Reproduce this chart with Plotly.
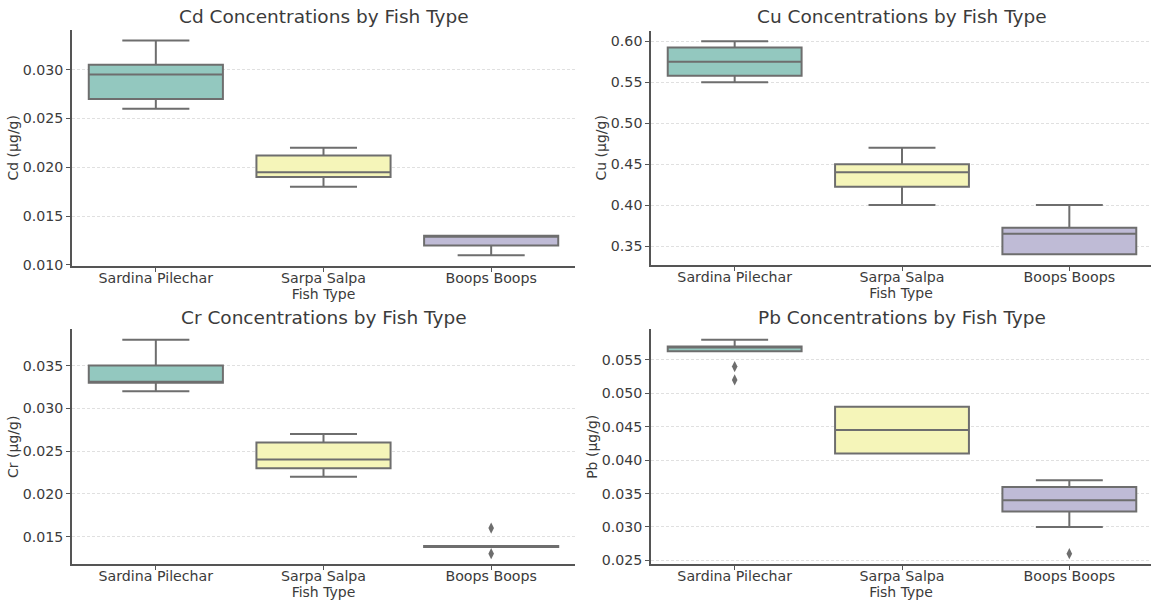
import plotly.graph_objects as go

# Fish species (x categories)
fish_types = ["Sardina Pilechar", "Sarpa Salpa", "Boops Boops"]
box_colors = ["#93c8bf", "#f5f5b9", "#bfbbd6"]

# Box statistics per metal (µg/g), one value per fish type
cd_lower = [0.026, 0.018, 0.011]
cd_q1 = [0.027, 0.019, 0.012]
cd_median = [0.0295, 0.0195, 0.013]
cd_q3 = [0.0305, 0.0212, 0.013]
cd_upper = [0.033, 0.022, 0.013]
cd_outliers = [[], [], []]

cu_lower = [0.55, 0.40, 0.34]
cu_q1 = [0.558, 0.4225, 0.34]
cu_median = [0.575, 0.44, 0.365]
cu_q3 = [0.5925, 0.45, 0.3725]
cu_upper = [0.60, 0.47, 0.40]
cu_outliers = [[], [], []]

cr_lower = [0.032, 0.022, 0.0138]
cr_q1 = [0.033, 0.023, 0.0138]
cr_median = [0.033, 0.024, 0.0139]
cr_q3 = [0.035, 0.026, 0.0139]
cr_upper = [0.038, 0.027, 0.0139]
cr_outliers = [[], [], [0.016, 0.013]]

pb_lower = [0.0563, 0.041, 0.030]
pb_q1 = [0.0563, 0.041, 0.0323]
pb_median = [0.057, 0.0445, 0.034]
pb_q3 = [0.057, 0.048, 0.036]
pb_upper = [0.058, 0.048, 0.037]
pb_outliers = [[0.054, 0.052], [], [0.026]]

panels = [
    ("Cd", cd_lower, cd_q1, cd_median, cd_q3, cd_upper, cd_outliers),
    ("Cu", cu_lower, cu_q1, cu_median, cu_q3, cu_upper, cu_outliers),
    ("Cr", cr_lower, cr_q1, cr_median, cr_q3, cr_upper, cr_outliers),
    ("Pb", pb_lower, pb_q1, pb_median, pb_q3, pb_upper, pb_outliers),
]

W, H = 1151, 607
FONT = "DejaVu Sans"
TEXT = "#3b3b3b"
LINE = "#6e6e6e"
SPINE = "#555555"
GRID = "#e0e0e0"

# pixel frames of each panel: (left, right, top, bottom)
frames = [(72, 575, 30, 269), (651, 1153, 31, 268), (72, 575, 333, 571), (651, 1153, 333, 571)]
title_y = [17, 17, 321, 321]
y_ticks = [".3f", ".2f", ".3f", ".3f"]
y_dtick = [0.005, 0.05, 0.005, 0.005]

fig = go.Figure()

for i, (metal, lo, q1, med, q3, hi, outs) in enumerate(panels):
    ax = "" if i == 0 else str(i + 1)
    xref, yref = "x" + ax, "y" + ax
    for j, fish in enumerate(fish_types):
        fig.add_trace(go.Box(
            x=[fish], q1=[q1[j]], median=[med[j]], q3=[q3[j]],
            lowerfence=[lo[j]], upperfence=[hi[j]],
            fillcolor=box_colors[j], line=dict(color=LINE, width=2),
            width=0.8, whiskerwidth=0.5, boxpoints=False,
            showlegend=False, hoverinfo="skip", xaxis=xref, yaxis=yref,
        ))
        if outs[j]:
            fig.add_trace(go.Scatter(
                x=[fish] * len(outs[j]), y=outs[j], mode="markers",
                marker=dict(symbol="diamond-tall", size=8, color=LINE),
                showlegend=False, hoverinfo="skip", xaxis=xref, yaxis=yref,
            ))

    # axis ranges follow a 5% padding around all drawn values
    vals = lo + hi + [v for o in outs for v in o]
    vmin, vmax = min(vals), max(vals)
    pad = (vmax - vmin) * 0.05

    l, r, t, b = frames[i]
    x_hi = 2.5 if r <= W else 2.5 - (r - W) / ((r - l) / 3.0)
    xdom = [l / W, min(r, W) / W]
    ydom = [1 - b / H, 1 - t / H]

    fig.layout["xaxis" + ax] = dict(
        domain=xdom, anchor=yref, type="category",
        categoryorder="array", categoryarray=fish_types,
        range=[-0.5, x_hi], showgrid=False, zeroline=False,
        showline=True, linecolor=SPINE, linewidth=1.5,
        ticks="outside", ticklen=4, tickwidth=1, tickcolor=SPINE,
        ticklabelstandoff=-6,
        tickfont=dict(family=FONT, size=14.2, color=TEXT),
        title=dict(text="Fish Type", standoff=2,
                   font=dict(family=FONT, size=14, color=TEXT)),
    )
    fig.layout["yaxis" + ax] = dict(
        domain=ydom, anchor=xref, range=[vmin - pad, vmax + pad],
        dtick=y_dtick[i], tick0=0, tickformat=y_ticks[i],
        showgrid=True, gridcolor=GRID, griddash="3px,2px", gridwidth=1,
        zeroline=False, showline=True, linecolor=SPINE, linewidth=1.5,
        ticks="outside", ticklen=4, tickwidth=1, tickcolor=SPINE,
        tickfont=dict(family=FONT, size=14.2, color=TEXT),
        title=dict(text=f"{metal} (µg/g)", standoff=1,
                   font=dict(family=FONT, size=14, color=TEXT)),
    )
    fig.add_annotation(
        text=f"{metal} Concentrations by Fish Type",
        x=(l + r) / 2 / W, y=1 - title_y[i] / H,
        xref="paper", yref="paper",
        xanchor="center", yanchor="middle", showarrow=False,
        font=dict(family=FONT, size=18.5, color=TEXT),
    )

fig.update_layout(
    width=W, height=H, margin=dict(l=0, r=0, t=0, b=0),
    paper_bgcolor="white", plot_bgcolor="white",
    font=dict(family=FONT, color=TEXT),
)

fig.write_html("out.html")
